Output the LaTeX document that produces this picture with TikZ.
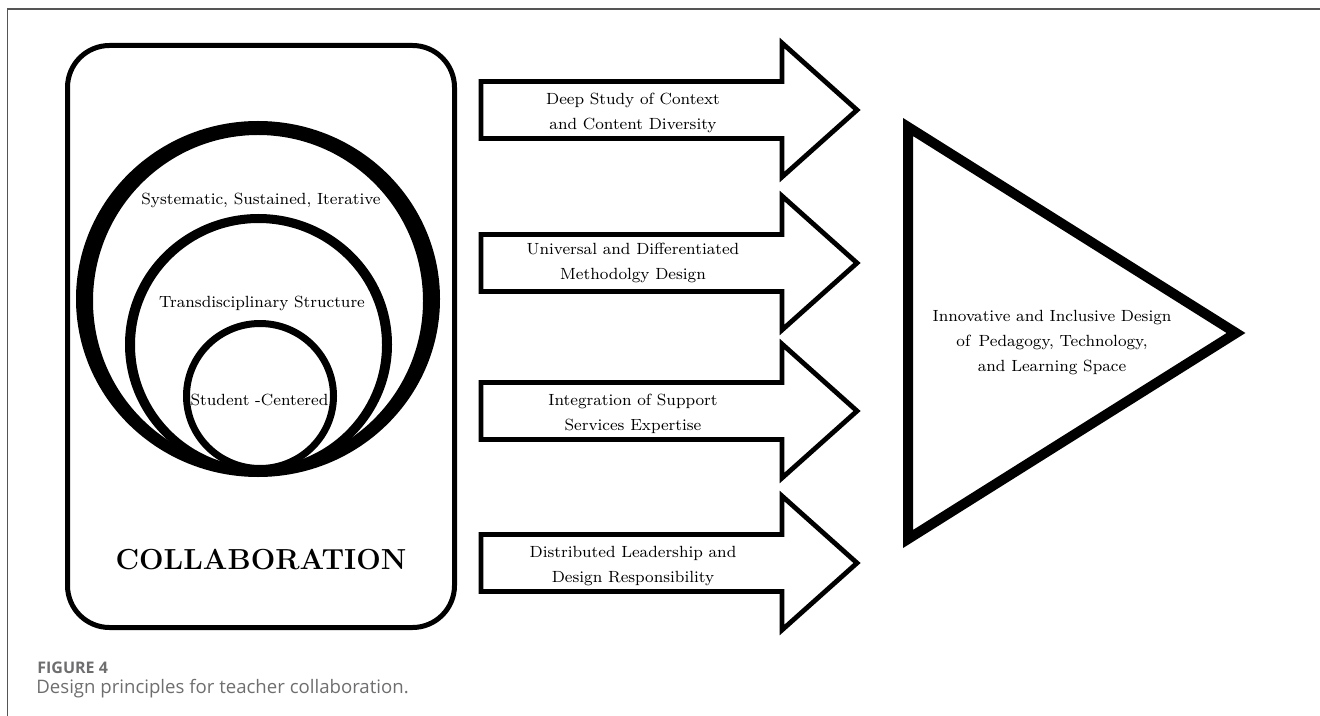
\documentclass[tikz,border=0pt]{standalone}
\usepackage{fontspec}
\newfontfamily\capfont{Open Sans}
\definecolor{capgray}{HTML}{6E6E70}
\definecolor{framegray}{HTML}{555555}
\begin{document}
\begin{tikzpicture}[x=0.5pt,y=-0.5pt,
  txt/.style={font=\fontsize{8.1}{12.5}\selectfont, align=center, inner sep=0pt},
  arrowline/.style={draw=black, line width=2.4pt, line join=miter, fill=white},
  bigarrow/.pic={\path[arrowline] (-150,-28.5) -- (151,-28.5) -- (151,-67) -- (226,0)
      -- (151,67) -- (151,28.5) -- (-150,28.5) -- cycle;},
  ring/.style={fill=black, even odd rule}
]
\useasboundingbox (0,0) rectangle (1320,716);
% figure frame
\draw[framegray, line width=0.75pt] (7.5,716) -- (7.5,9) -- (1320,9);

% collaboration box
\draw[line width=2.5pt, rounded corners=21pt] (67.5,45.5) rectangle (454.5,627.5);

% nested rings (filled bands between two ellipses)
\path[ring] (258,299) ellipse [x radius=182, y radius=178]
            (258,301) ellipse [x radius=165, y radius=166];
\path[ring] (258.5,344.5) ellipse [x radius=133.5, y radius=130.5]
            (258.5,345) ellipse [x radius=123.5, y radius=122];
\path[ring] (260,396) ellipse [x radius=77, y radius=76]
            (260,396) ellipse [x radius=70, y radius=69];

\node[txt] (sys) at (261,200) {Systematic, Sustained, Iterative};
\node[txt] (trans) at (262,303) {Transdisciplinary Structure};
\node[txt] (stud) at (259.5,400) {Student -Centered};
\node[font=\fontsize{14.5}{17}\bfseries\selectfont, inner sep=0pt] (collab) at (261,560) {COLLABORATION};

% arrows
\pic at (631,110) {bigarrow};
\pic at (631,263) {bigarrow};
\pic at (631,411) {bigarrow};
\pic at (631,563) {bigarrow};
\node[txt] (a1) at (633,112.5) {Deep Study of Context\\and Content Diversity};
\node[txt] (a2) at (633,263) {Universal and Differentiated\\Methodolgy Design};
\node[txt] (a3) at (633,414) {Integration of Support\\Services Expertise};
\node[txt] (a4) at (633,566) {Distributed Leadership and\\Design Responsibility};

% triangle
\draw[line width=5pt, line join=miter] (908,127) -- (1236,333) -- (908,539) -- cycle;
\node[txt] (goal) at (1052,343) {Innovative and Inclusive Design\\of\, Pedagogy, Technology,\\and Learning Space};

% caption
\node[anchor=west, inner sep=0pt, text=capgray, font=\capfont\fontsize{8}{10}\selectfont\bfseries] (fig) at (37,668) {FIGURE 4};
\node[anchor=west, inner sep=0pt, text=capgray, font=\capfont\fontsize{9.3}{11}\selectfont] (cap) at (36,689) {Design principles for teacher collaboration.};
\end{tikzpicture}
\end{document}
